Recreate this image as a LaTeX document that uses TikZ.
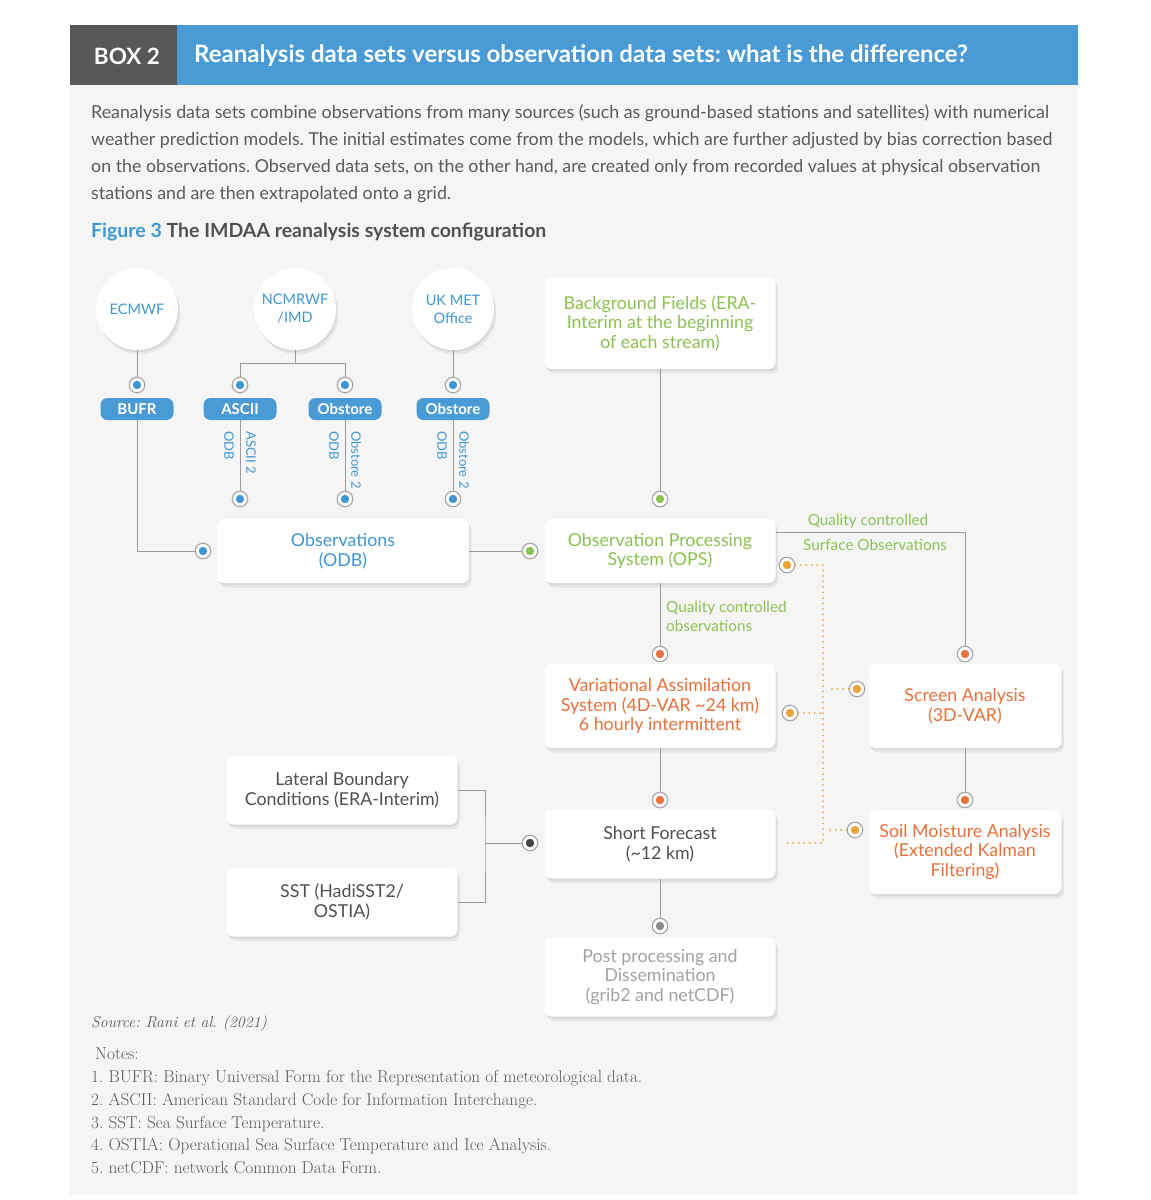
\documentclass[tikz,border=0pt]{standalone}
\usepackage{fontspec}
\newfontfamily\lato{Lato}
\usepackage{tikz}
\usetikzlibrary{shadows}
\frenchspacing

\definecolor{panelgray}{HTML}{F5F5F5}
\definecolor{boxdark}{HTML}{58585A}
\definecolor{boxblue}{HTML}{4A9BD5}
\definecolor{diagblue}{HTML}{3F96D4}
\definecolor{bodytext}{HTML}{5A5A5A}
\definecolor{qcgreen}{HTML}{8CC152}
\definecolor{varorange}{HTML}{E8703A}
\definecolor{dotyellow}{HTML}{EBA43B}
\definecolor{linegray}{HTML}{9B9B9B}
\definecolor{ringgray}{HTML}{A8A8A8}
\definecolor{darktext}{HTML}{505050}
\definecolor{lighttext}{HTML}{A2A2A2}
\definecolor{darkdot}{HTML}{444444}
\definecolor{midgray}{HTML}{8C8C8C}

\tikzset{
  softshadow/.style={drop shadow={shadow xshift=2.5pt,shadow yshift=-4.5pt,opacity=0.06,fill=black},
                     drop shadow={shadow xshift=1pt,shadow yshift=-2pt,opacity=0.06,fill=black}},
  card/.style={fill=white, rounded corners=7pt, minimum width=231pt, align=center, inner sep=4pt,
               font=\lato\fontsize{17.8}{19.5}\selectfont, softshadow},
  source/.style={circle, fill=white, minimum size=82pt, inner sep=0pt, align=center, text=diagblue,
                 font=\lato\fontsize{14.5}{18}\selectfont, softshadow},
  fmt/.style={fill=boxblue, rounded corners=7pt, minimum width=73pt, minimum height=22pt, inner sep=0pt,
              text=white, font=\lato\bfseries\fontsize{15}{16}\selectfont},
  socket/.style={circle, draw=ringgray, fill=white, line width=1.2pt, minimum size=15.5pt, inner sep=0pt,
                 path picture={\fill[#1] (path picture bounding box.center) circle (4.2pt);}},
  vtag/.style={rotate=-90, text=diagblue, inner sep=1pt, font=\lato\fontsize{13}{14}\selectfont},
  qc/.style={text=qcgreen, inner sep=0pt, align=left, font=\lato\fontsize{15.3}{19}\selectfont},
  link/.style={draw=linegray, line width=1pt},
  dotlink/.style={draw=dotyellow, line width=2pt, line cap=round, dash pattern=on 0pt off 5.5pt},
}

\begin{document}
\begin{tikzpicture}[x=1pt,y=-1pt]
  \useasboundingbox (0,0) rectangle (1151,1200);
  \fill[white] (0,0) rectangle (1151,1200);
  % panel and header band
  \fill[panelgray] (70,25) rectangle (1078,1195);
  \fill[boxdark] (70,25) rectangle (177,85);
  \fill[boxblue] (177,25) rectangle (1078,85);
  \node[text=white, font=\lato\bfseries\fontsize{22.5}{24}\selectfont] (boxtag) at (127,56) {BOX 2};
  \node[anchor=west, inner sep=0pt, text=white, font=\lato\bfseries\fontsize{24}{26}\selectfont] (boxtitle) at (194,56)
    {Reanalysis data sets versus observation data sets: what is the difference?};
  \node[anchor=north west, inner sep=0pt, align=left, text=bodytext, font=\lato\fontsize{17.8}{27}\selectfont] (intro) at (91,104)
    {Reanalysis data sets combine observations from many sources (such as ground-based stations and satellites) with numerical\\
     weather prediction models. The initial estimates come from the models, which are further adjusted by bias correction based\\
     on the observations. Observed data sets, on the other hand, are created only from recorded values at physical observation\\
     stations and are then extrapolated onto a grid.};
  \node[anchor=west, inner sep=0pt, font=\lato\bfseries\fontsize{19.5}{22}\selectfont] (caption) at (91,232)
    {\textcolor{diagblue}{Figure 3} \textcolor{darktext}{The IMDAA reanalysis system configuration}};

  % Data sources (top row)
  \node[source] (ecmwf) at (137,309) {ECMWF};
  \node[source] (ncmrwf) at (295,309) {NCMRWF\\/IMD};
  \node[source] (ukmo) at (453,309) {UK MET\\Office};
  \node[socket=diagblue] (sEc) at (137,385) {};
  \node[socket=diagblue] (sNcA) at (240,385) {};
  \node[socket=diagblue] (sNcB) at (345,385) {};
  \node[socket=diagblue] (sUk) at (453,385) {};
  % Formats
  \node[fmt] (bufr) at (137,409) {BUFR};
  \node[fmt] (ascii) at (240,409) {ASCII};
  \node[fmt] (obstA) at (345,409) {Obstore};
  \node[fmt] (obstB) at (453,409) {Obstore};
  \node[socket=diagblue] (sAscii) at (240,499) {};
  \node[socket=diagblue] (sObstA) at (345,499) {};
  \node[socket=diagblue] (sObstB) at (453,499) {};
  \node[vtag, anchor=west] (tagA1) at (229,430) {ODB};
  \node[vtag, anchor=west] (tagA2) at (251,430) {ASCII 2};
  \node[vtag, anchor=west] (tagB1) at (334,430) {ODB};
  \node[vtag, anchor=west] (tagB2) at (356,430) {Obstore 2};
  \node[vtag, anchor=west] (tagC1) at (442,430) {ODB};
  \node[vtag, anchor=west] (tagC2) at (464,430) {Obstore 2};

  % Processing boxes
  \node[card, text=diagblue, minimum width=252pt, minimum height=64pt] (obs) at (343,551) {Observations\\(ODB)};
  \node[card, text=qcgreen, minimum height=92pt] (bg) at (660,323) {Background Fields (ERA-\\Interim at the beginning\\of each stream)};
  \node[card, text=qcgreen, minimum height=64pt] (ops) at (660,551) {Observation Processing\\System (OPS)};
  \node[card, text=varorange, minimum height=84pt] (var) at (660,706) {Variational Assimilation\\System (4D-VAR \textasciitilde24 km)\\6 hourly intermittent};
  \node[card, text=varorange, minimum width=193pt, minimum height=84pt] (screen) at (965,706) {Screen Analysis\\(3D-VAR)};
  \node[card, text=varorange, minimum width=193pt, minimum height=84pt] (soil) at (965,852) {Soil Moisture Analysis\\(Extended Kalman\\Filtering)};
  \node[card, text=darktext, minimum height=69pt] (sf) at (660,844) {Short Forecast\\(\textasciitilde12 km)};
  \node[card, text=darktext, minimum height=69pt] (lbc) at (342,790) {Lateral Boundary\\Conditions (ERA-Interim)};
  \node[card, text=darktext, minimum height=69pt] (sst) at (342,902) {SST (HadiSST2/\\OSTIA)};
  \node[card, text=lighttext, minimum height=79pt] (post) at (660,977) {Post processing and\\Dissemination\\(grib2 and netCDF)};

  % Connectors
  \coordinate (ncFork) at (295,363);
  \draw[link] (ecmwf) -- (sEc);
  \draw[link] (ncmrwf) -- (ncFork) -| (sNcA);
  \draw[link] (ncFork) -| (sNcB);
  \draw[link] (ukmo) -- (sUk);
  \draw[link] (ascii) -- (sAscii);
  \draw[link] (obstA) -- (sObstA);
  \draw[link] (obstB) -- (sObstB);
  \node[socket=diagblue] (sBufr) at (203,551) {};
  \draw[link] (bufr) |- (sBufr);
  \node[socket=qcgreen] (sObs) at (530,551) {};
  \node[socket=qcgreen] (sBg) at (660,499) {};
  \draw[link] (obs) -- (sObs);
  \draw[link] (bg) -- (sBg);
  \node[socket=varorange] (sVar) at (660,654) {};
  \node[socket=varorange] (sScreen) at (965,654) {};
  \node[socket=varorange] (sSf) at (660,800) {};
  \node[socket=varorange] (sSoil) at (965,800) {};
  \draw[link] ([yshift=19pt]ops.east) -| (sScreen);
  \node[qc] (qcSurfA) at (868,521) {Quality controlled};
  \node[qc] (qcSurfB) at (875,545) {Surface Observations};
  \draw[link] (ops) -- (sVar);
  \node[qc, anchor=west] (qcObs) at (666,616) {Quality controlled\\observations};
  \draw[link] (var) -- (sSf);
  \draw[link] (screen) -- (sSoil);
  \coordinate (bcJoin) at (485,843);
  \node[socket=darkdot] (sBc) at (530,843) {};
  \draw[link] (lbc.east) -| (bcJoin) |- (sst.east);
  \draw[link] (bcJoin) -- (sBc);
  \node[socket=midgray] (sPost) at (660,926) {};
  \draw[link] (sf) -- (sPost);
  % dotted feedback
  \coordinate (trunkTop) at (823,565);
  \coordinate (trunkBot) at (823,843);
  \node[socket=dotyellow] (sOpsOut) at (787,565) {};
  \node[socket=dotyellow] (sVarOut) at (790,713) {};
  \node[socket=dotyellow] (sScreenIn) at (857,689) {};
  \node[socket=dotyellow] (sSoilIn) at (855,830) {};
  \draw[dotlink, shorten >=8pt] (sOpsOut) -| (trunkBot) -- (sf.east |- trunkBot);
  \draw[dotlink] (sVarOut) -- (sVarOut -| trunkTop);
  \draw[dotlink, shorten >=6pt] (sScreenIn) -- (sScreenIn -| trunkTop);
  \draw[dotlink, shorten >=6pt] (sSoilIn) -- (sSoilIn -| trunkTop);

  % Source and notes
  \node[anchor=base west, inner sep=0pt, text=bodytext, font=\itshape\fontsize{15.8}{18}\selectfont] (source) at (91,1027) {Source: Rani et al. (2021)};
  \node[anchor=base west, inner sep=0pt, text=bodytext, font=\fontsize{17.2}{18}\selectfont] (notes) at (95,1059) {Notes:};
  \foreach \n/\y/\txt in {1/1082/BUFR: Binary Universal Form for the Representation of meteorological data.,
                          2/1105/ASCII: American Standard Code for Information Interchange.,
                          3/1128/SST: Sea Surface Temperature.,
                          4/1150/OSTIA: Operational Sea Surface Temperature and Ice Analysis.,
                          5/1173/netCDF: network Common Data Form.}
    \node[anchor=base west, inner sep=0pt, text=bodytext, font=\fontsize{17.2}{18}\selectfont] (note\n) at (91,\y) {\n. \txt};
\end{tikzpicture}
\end{document}
